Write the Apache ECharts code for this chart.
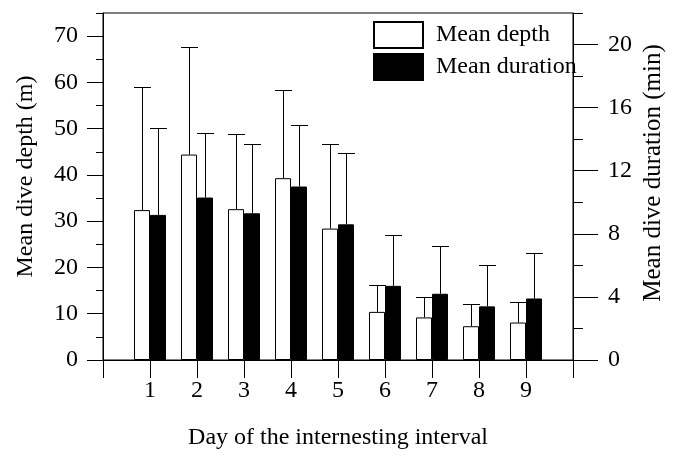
<!DOCTYPE html>
<html><head><meta charset="utf-8">
<script src="https://cdn.jsdelivr.net/npm/echarts@6/dist/echarts.min.js"></script>
<style>html,body{margin:0;padding:0;background:#fff}#c{width:674px;height:458px}</style>
</head><body><div id="c"></div>
<script>
const days = ['1','2','3','4','5','6','7','8','9'];
const meanDepth = [32.4, 44.4, 32.6, 39.3, 28.4, 10.4, 9.2, 7.3, 8.1];
const depthUpper = [58.9, 67.6, 48.8, 58.3, 46.7, 16.3, 13.7, 12.1, 12.6];
const meanDuration = [9.2, 10.3, 9.3, 11.0, 8.6, 4.7, 4.2, 3.4, 3.9];
const durationUpper = [14.7, 14.4, 13.7, 14.9, 13.1, 7.9, 7.2, 6.0, 6.8];
const depthTicks = [0, 70, 10];
const durationTicks = [0, 20, 4];

const FONT = 'Liberation Serif';
const cats = [''].concat(days, ['']);
const pad = a => [null].concat(a, [null]);
const errData = (lo, hi) => days.map((d, k) => [k + 1, lo[k], hi[k]]);

const G = {left: 103, right: 93, bottom: 98};
const TOP = 13;
const plotH = 458 - TOP - 98;
function errRender(offset) {
  return function (params, api) {
    const i = api.value(0), lo = api.value(1), hi = api.value(2);
    const p0 = api.coord([i, lo]), p1 = api.coord([i, hi]);
    const x = Math.round(p0[0] + offset) + 0.5;
    const y1 = Math.round(p1[1]) + 0.5;
    return {type: 'group', children: [
      {type: 'line', shape: {x1: x, y1: p0[1], x2: x, y2: y1}, style: {stroke: '#000', lineWidth: 1}},
      {type: 'line', shape: {x1: x - 8.5, y1: y1, x2: x + 8.5, y2: y1}, style: {stroke: '#000', lineWidth: 1}}
    ]};
  };
}
const lbl = {fontFamily: FONT, fontSize: 24, color: '#000'};
const axLine = {show: true, lineStyle: {color: '#000', width: 1}};

const chart = echarts.init(document.getElementById('c'), null, {renderer: 'canvas'});
chart.setOption({
  animation: false,
  backgroundColor: '#fff',
  textStyle: {fontFamily: FONT},
  grid: [
    Object.assign({top: TOP, show: true, borderColor: '#000', borderWidth: 1, containLabel: false}, G),
    Object.assign({top: TOP + plotH * (1 - depthTicks[1] / 75)}, G),
    Object.assign({top: TOP + plotH * (1 - durationTicks[1] / 22)}, G)
  ],
  legend: {
    orient: 'vertical', left: 373, top: 21, padding: 0, itemWidth: 49, itemHeight: 26, itemGap: 4,
    icon: 'rect',
    textStyle: {fontFamily: FONT, fontSize: 24, color: '#000', padding: [0, 0, 0, 8]},
    data: ['Mean depth', 'Mean duration']
  },
  xAxis: [
    {type: 'category', gridIndex: 0, data: cats, boundaryGap: false,
     axisLine: axLine, axisTick: {show: true, inside: false, length: 18, alignWithLabel: true, lineStyle: {color: '#000'}},
     axisLabel: Object.assign({margin: 19, interval: 0}, lbl),
     name: 'Day of the internesting interval', nameLocation: 'middle', nameGap: 66,
     nameTextStyle: lbl},
    {type: 'category', gridIndex: 1, data: cats, show: false},
    {type: 'category', gridIndex: 2, data: cats, show: false}
  ],
  yAxis: [
    {type: 'value', gridIndex: 0, min: 0, max: 75, interval: 5, position: 'left',
     axisLine: axLine, axisTick: {show: true, length: 7, lineStyle: {color: '#000'}},
     axisLabel: {show: false}, splitLine: {show: false},
     name: 'Mean dive depth (m)', nameLocation: 'middle', nameGap: 65, nameRotate: 90,
     nameTextStyle: Object.assign({padding: [0, 0, 0, 20]}, lbl)},
    {type: 'value', gridIndex: 0, min: 0, max: 22, interval: 2, position: 'right',
     axisLine: axLine, axisTick: {show: true, length: 10, lineStyle: {color: '#000'}},
     axisLabel: {show: false}, splitLine: {show: false},
     name: 'Mean dive duration (min)', nameLocation: 'middle', nameGap: 68, nameRotate: 90,
     nameTextStyle: Object.assign({padding: [0, 0, 0, 27]}, lbl, {fontSize: 25})},
    {type: 'value', gridIndex: 1, min: depthTicks[0], max: depthTicks[1], interval: depthTicks[2], position: 'left',
     axisLine: {show: false}, axisTick: {show: true, length: 16, lineStyle: {color: '#000'}},
     axisLabel: Object.assign({margin: 25}, lbl), splitLine: {show: false}},
    {type: 'value', gridIndex: 2, min: durationTicks[0], max: durationTicks[1], interval: durationTicks[2], position: 'right',
     axisLine: {show: false}, axisTick: {show: true, length: 17, lineStyle: {color: '#000'}},
     axisLabel: Object.assign({margin: 27}, lbl), splitLine: {show: false}}
  ],
  series: [
    {name: 'Mean depth', type: 'bar', xAxisIndex: 0, yAxisIndex: 0, data: pad(meanDepth),
     barWidth: 16, barGap: '0%', itemStyle: {color: '#fff', borderColor: '#000', borderWidth: 1}},
    {name: 'Mean duration', type: 'bar', xAxisIndex: 0, yAxisIndex: 1, data: pad(meanDuration),
     barWidth: 16, barGap: '0%', itemStyle: {color: '#000', borderColor: '#000', borderWidth: 1}},
    {type: 'custom', xAxisIndex: 0, yAxisIndex: 0, renderItem: errRender(-8),
     encode: {x: 0, y: [1, 2]}, data: errData(meanDepth, depthUpper), z: 1},
    {type: 'custom', xAxisIndex: 0, yAxisIndex: 1, renderItem: errRender(8),
     encode: {x: 0, y: [1, 2]}, data: errData(meanDuration, durationUpper), z: 1}
  ]
});
</script></body></html>
